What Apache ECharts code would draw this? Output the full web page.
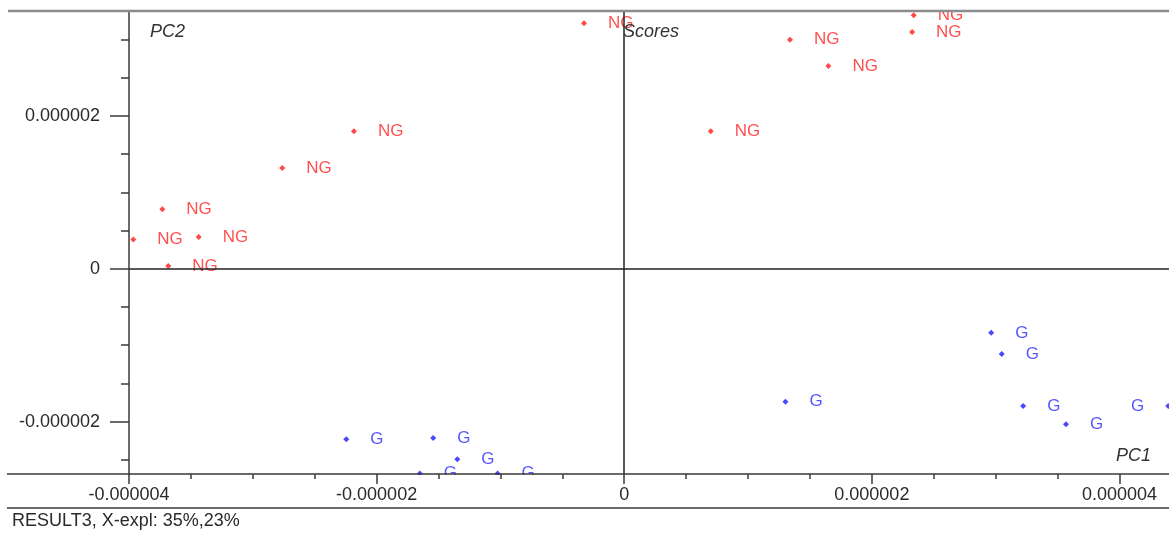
<!DOCTYPE html>
<html><head><meta charset="utf-8">
<script src="https://cdn.jsdelivr.net/npm/echarts@6/dist/echarts.min.js"></script>
<style>html,body{margin:0;padding:0;background:#fff;}#c{width:1169px;height:535px;}</style>
</head><body><div id="c"></div>
<script>
// ---- data (PC1, PC2 scores) ----
const ngX = [-2.183e-6, -2.762e-6, -3.731e-6, -3.965e-6, -3.437e-6, -3.683e-6, -0.325e-6, 0.699e-6, 1.339e-6, 1.649e-6, 2.338e-6, 2.325e-6];
const ngY = [1.799e-6, 1.319e-6, 0.779e-6, 0.383e-6, 0.417e-6, 0.038e-6, 3.214e-6, 1.799e-6, 2.997e-6, 2.652e-6, 3.319e-6, 3.097e-6];
const gX = [-2.245e-6, -1.543e-6, -1.348e-6, -1.651e-6, -1.023e-6, 1.302e-6, 2.964e-6, 3.049e-6, 3.222e-6, 3.568e-6, 4.394e-6];
const gY = [-2.231e-6, -2.214e-6, -2.493e-6, -2.680e-6, -2.680e-6, -1.740e-6, -0.838e-6, -1.116e-6, -1.796e-6, -2.035e-6, -1.796e-6];

// ---- axes ----
const X_MIN = -4e-6, X_MAX = 4.4e-6;
const Y_MIN = -2.685e-6, Y_MAX = 3.36e-6;
const xMajorTicks = [-4e-6, -2e-6, 0, 2e-6, 4e-6];
const xTickLabels = ['-0.000004', '-0.000002', '0', '0.000002', '0.000004'];
const xMinorTicks = [-4e-6, -3.5e-6, -3e-6, -2.5e-6, -2e-6, -1.5e-6, -1e-6, -0.5e-6, 0, 0.5e-6, 1e-6, 1.5e-6, 2e-6, 2.5e-6, 3e-6, 3.5e-6, 4e-6];
const yMajorTicks = [-2e-6, 0, 2e-6];
const yTickLabels = ['-0.000002', '0', '0.000002'];
const yMinorTicks = [-2.5e-6, -2e-6, -1.5e-6, -1e-6, -0.5e-6, 0, 0.5e-6, 1e-6, 1.5e-6, 2e-6, 2.5e-6, 3e-6];

const FONT = '"Liberation Sans", Arial, sans-serif';
const AX = '#3a3a3a';

function makeData(xs, ys, name) {
  return xs.map((x, i) => ({ name: name, value: [x, ys[i]], label: { position: x > 4.2e-6 ? 'left' : 'right' } }));
}
function fmt(ticks, labels) {
  return v => { const i = ticks.findIndex(t => Math.abs(t - v) < 1e-12); return i >= 0 ? labels[i] : ''; };
}

const chart = echarts.init(document.getElementById('c'));
const option = {
  animation: false,
  backgroundColor: '#fff',
  grid: { left: 129, right: 0, top: 12, bottom: 61 },
  xAxis: [
    { type: 'value', min: X_MIN, max: X_MAX, position: 'bottom', z: 10, splitLine: { show: false },
      axisLine: { show: true, onZero: false, lineStyle: { color: AX, width: 1.5 } },
      axisTick: { show: true, customValues: xMinorTicks, length: 5, lineStyle: { color: AX, width: 1.5 } },
      axisLabel: { show: false } },
    { type: 'value', min: X_MIN, max: X_MAX, position: 'bottom', z: 10, splitLine: { show: false },
      axisLine: { show: false, onZero: false },
      axisTick: { show: true, customValues: xMajorTicks, length: 10, lineStyle: { color: AX, width: 1.5 } },
      axisLabel: { show: true, customValues: xMajorTicks, formatter: fmt(xMajorTicks, xTickLabels),
        margin: 12, color: '#2a2a2a', fontSize: 18, fontFamily: FONT } }
  ],
  yAxis: [
    { type: 'value', min: Y_MIN, max: Y_MAX, position: 'left', z: 10, splitLine: { show: false },
      axisLine: { show: true, onZero: false, lineStyle: { color: AX, width: 1.5 } },
      axisTick: { show: true, customValues: yMinorTicks, length: 8, lineStyle: { color: AX, width: 1.5 } },
      axisLabel: { show: false } },
    { type: 'value', min: Y_MIN, max: Y_MAX, position: 'left', z: 10, splitLine: { show: false },
      axisLine: { show: false, onZero: false },
      axisTick: { show: true, customValues: yMajorTicks, length: 19, lineStyle: { color: AX, width: 1.5 } },
      axisLabel: { show: true, customValues: yMajorTicks, formatter: fmt(yMajorTicks, yTickLabels),
        margin: 29, color: '#2a2a2a', fontSize: 18, fontFamily: FONT } }
  ],
  series: [
    { type: 'scatter', name: 'NG', xAxisIndex: 0, yAxisIndex: 0, clip: true,
      symbol: 'diamond', symbolSize: 6, itemStyle: { color: '#ff1a1a' },
      label: { show: true, formatter: '{b}', distance: 21, color: '#ff2424', fontSize: 17, fontFamily: FONT },
      data: makeData(ngX, ngY, 'NG'),
      markLine: { silent: true, symbol: 'none', label: { show: false }, animation: false,
        lineStyle: { color: '#222', width: 1.5, type: 'solid' },
        emphasis: { disabled: true },
        data: [{ xAxis: 0 }, { yAxis: 0 }] } },
    { type: 'scatter', name: 'G', xAxisIndex: 0, yAxisIndex: 0, clip: true,
      symbol: 'diamond', symbolSize: 6, itemStyle: { color: '#1a1aff' },
      label: { show: true, formatter: '{b}', distance: 21, color: '#2a2aff', fontSize: 17, fontFamily: FONT },
      data: makeData(gX, gY, 'G') }
  ],
  graphic: [
    { type: 'rect', silent: true, z: 5, shape: { x: 0, y: 475, width: 1169, height: 60 }, style: { fill: '#fff' } },
    { type: 'rect', silent: true, z: 5, shape: { x: 0, y: 0, width: 1169, height: 11 }, style: { fill: '#fff' } },
    { type: 'line', silent: true, z: 11, shape: { x1: 8, y1: 11, x2: 1169, y2: 11 }, style: { stroke: '#8c8c8c', lineWidth: 2.5 } },
    { type: 'line', silent: true, z: 11, shape: { x1: 7, y1: 474, x2: 129, y2: 474 }, style: { stroke: AX, lineWidth: 1.5 } },
    { type: 'line', silent: true, z: 11, shape: { x1: 7, y1: 508, x2: 1169, y2: 508 }, style: { stroke: '#6a6a6a', lineWidth: 2 } },
    { type: 'text', silent: true, z: 11, x: 150, y: 32, style: { text: 'PC2', font: 'italic 18px ' + FONT, fill: '#333', verticalAlign: 'middle' } },
    { type: 'text', silent: true, z: 11, x: 623, y: 32, style: { text: 'Scores', font: 'italic 18px ' + FONT, fill: '#333', verticalAlign: 'middle' } },
    { type: 'text', silent: true, z: 11, x: 1116, y: 456, style: { text: 'PC1', font: 'italic 18px ' + FONT, fill: '#333', verticalAlign: 'middle' } },
    { type: 'text', silent: true, z: 11, x: 12, y: 521, style: { text: 'RESULT3, X-expl: 35%,23%', font: '18px ' + FONT, fill: '#2a2a2a', verticalAlign: 'middle' } }
  ]
};
chart.setOption(option);
</script>
</body></html>
